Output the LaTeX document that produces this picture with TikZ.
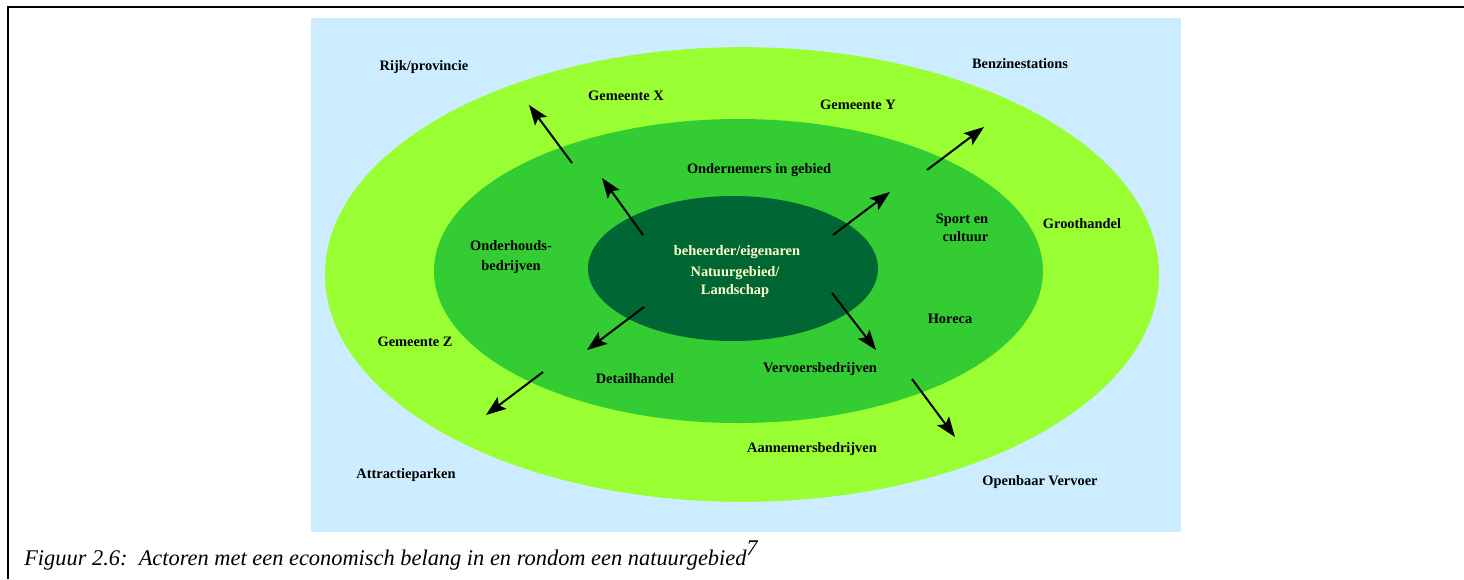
\documentclass[tikz,border=0pt]{standalone}
\usepackage{fontspec}
\setmainfont{Liberation Serif}
\usepackage{tikz}
\usetikzlibrary{shapes.geometric,arrows.meta}
\definecolor{skyclr}{rgb}{0.80, 0.925, 1.0}
\definecolor{outerclr}{rgb}{0.6, 1.0, 0.2}
\definecolor{midclr}{rgb}{0.2, 0.8, 0.2}
\definecolor{coreclr}{rgb}{0.0, 0.4, 0.2}
\definecolor{coretxt}{rgb}{1.0, 1.0, 0.8}
\tikzset{ %
  ,>={Stealth[length=15pt,width=11pt,inset=3pt]}
  ,actor/.style={inner sep=0, font=\bfseries\fontsize{10.8}{13.5}\selectfont}
  ,ring/.style={ellipse, inner sep=0, draw=none}
  ,flow/.style={->, line width=1.5pt}
}

\begin{document}
\begin{tikzpicture}[x=0.75pt, y=-0.75pt]
      \useasboundingbox (0,0) rectangle (1464,579);
      \fill[skyclr] (311,18) rectangle (1181,532);
      \draw[line width=1.5pt] (8,579) -- (8,7) -- (1464,7);
      % rings
      \node[ring, fill=outerclr, minimum width=625.5pt, minimum height=341pt] (outer) at (742,274.5) {};
      \node[ring, fill=midclr, minimum width=456.75pt, minimum height=228pt] (mid) at (738.5,271) {};
      \node[ring, fill=coreclr, minimum width=217.5pt, minimum height=108.75pt] (core) at (733,268.5) {};
      % arrow ends
      \coordinate (ulA) at (643,235); \coordinate (ulB) at (602,178);
      \coordinate (ulC) at (572,163); \coordinate (ulD) at (529,105);
      \coordinate (urA) at (833,235); \coordinate (urB) at (890,192);
      \coordinate (urC) at (927,170); \coordinate (urD) at (984,127);
      \coordinate (llA) at (644,307); \coordinate (llB) at (587,350);
      \coordinate (llC) at (543,372); \coordinate (llD) at (486,415);
      \coordinate (lrA) at (832,293); \coordinate (lrB) at (876,350);
      \coordinate (lrC) at (912,379); \coordinate (lrD) at (955,437);
      \draw[flow] (ulA) -- (ulB);
      \draw[flow] (ulC) -- (ulD);
      \draw[flow] (urA) -- (urB);
      \draw[flow] (urC) -- (urD);
      \draw[flow] (llA) -- (llB);
      \draw[flow] (llC) -- (llD);
      \draw[flow] (lrA) -- (lrB);
      \draw[flow] (lrC) -- (lrD);
      % labels
      \draw
      node[actor] (rijk) at (424,67) {Rijk/provincie}
      node[actor] (benzine) at (1020,64) {Benzinestations}
      node[actor] (gemX) at (626,96) {Gemeente X}
      node[actor] (gemY) at (858,105) {Gemeente Y}
      node[actor] (ondern) at (759,170) {Ondernemers in gebied}
      node[actor, align=right] (sport) at (962,228) {Sport en\\cultuur}
      node[actor] (groot) at (1082,224) {Groothandel}
      node[actor, align=center, font=\bfseries\fontsize{10.8}{15.5}\selectfont] (onderh) at (511,257) {Onderhouds-\\bedrijven}
      node[actor, text=coretxt] (beheer) at (737,252) {beheerder/eigenaren}
      node[actor, text=coretxt, align=center] (natuur) at (735,282) {Natuurgebied/\\Landschap}
      node[actor] (horeca) at (950,319) {Horeca}
      node[actor] (gemZ) at (415,342) {Gemeente Z}
      node[actor] (detail) at (635,379) {Detailhandel}
      node[actor] (vervoers) at (820,369) {Vervoersbedrijven}
      node[actor] (aannem) at (812,449) {Aannemersbedrijven}
      node[actor] (attract) at (406,475) {Attractieparken}
      node[actor] (ov) at (1040,482) {Openbaar Vervoer};
      \node[inner sep=0, anchor=base west, font=\itshape\fontsize{16.8}{20}\selectfont] (caption) at (24,565)
        {Figuur 2.6:\ \ Actoren met een economisch belang in en rondom een natuurgebied\raisebox{0.42em}{7}};
    \end{tikzpicture}
\end{document}
